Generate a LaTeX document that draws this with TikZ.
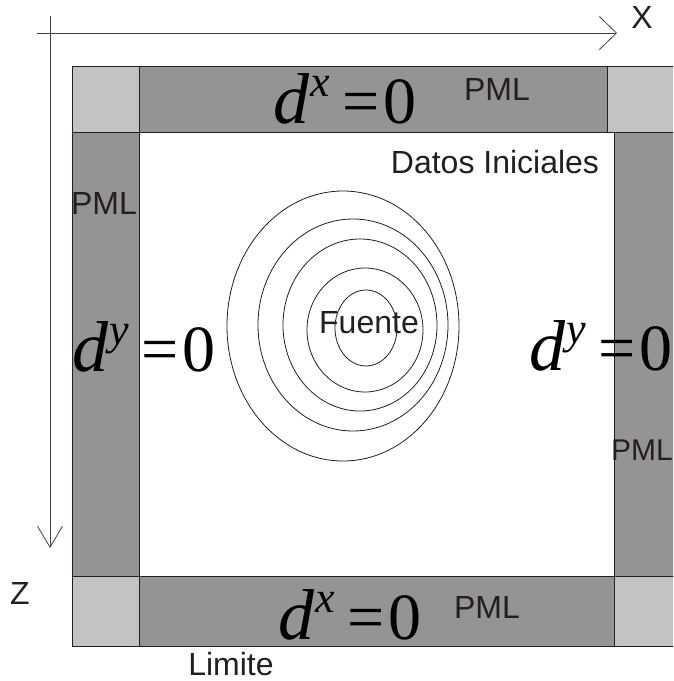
\documentclass[tikz,border=0pt]{standalone}
\usepackage{fontspec}
\setmainfont{Liberation Sans}
\newfontfamily\tnr{Liberation Serif}
\usetikzlibrary{arrows.meta}
\definecolor{pmldark}{HTML}{959394}
\definecolor{pmllight}{HTML}{C3C3C3}
\definecolor{inkk}{HTML}{231F20}
\newcommand{\dform}[1]{{\tnr\fontsize{72}{72}\selectfont\textit{d}\hspace{1pt}\raisebox{27pt}{\fontsize{44}{44}\selectfont\textit{#1}}\hspace{13pt}{\fontsize{66}{66}\selectfont=\hspace{3pt}0}}}
\begin{document}
\begin{tikzpicture}[x=1pt,y=-1pt,
  dark/.style={fill=pmldark,draw=inkk,line width=0.9pt},
  light/.style={fill=pmllight,draw=inkk,line width=0.9pt},
  axisline/.style={draw=inkk!85,line width=0.8pt},
  wave/.style={draw=inkk,line width=0.8pt},
  lbl/.style={inner sep=0pt,text=inkk,font=\fontsize{32}{32}\selectfont},
  frm/.style={inner sep=0pt,anchor=base west,text=black}]
\useasboundingbox (0,0) rectangle (673,681);
\begin{scope}
\clip (0,0) rectangle (673,681);
% PML regions
\path[light] (72,66) rectangle (139,132);
\path[dark] (139,66) rectangle (607,132);
\path[light] (607,66) rectangle (680,132);
\path[dark] (72,132) rectangle (139,576);
\path[dark] (614,132) rectangle (680,576);
\path[light] (72,576) rectangle (139,646);
\path[dark] (139,576) rectangle (614,646);
\path[light] (614,576) rectangle (680,646);
\end{scope}
% axes
\coordinate (xs) at (37,33);
\coordinate (xe) at (617,33);
\coordinate (zs) at (50,16);
\coordinate (ze) at (50,548);
\draw[axisline,-{Straight Barb[length=17pt,width=33pt,line width=0.8pt]}] (xs) -- (xe);
\draw[axisline,-{Straight Barb[length=21pt,width=25pt,line width=0.8pt]}] (zs) -- (ze);
\node[lbl] (xl) at (642,17) {X};
\node[lbl] (zl) at (20,593) {Z};
% waves
\draw[wave] (343,326) ellipse [x radius=116, y radius=135];
\draw[wave] (353,325) ellipse [x radius=95, y radius=106];
\draw[wave] (360,325) ellipse [x radius=77, y radius=86];
\draw[wave] (365,330) ellipse [x radius=58, y radius=62];
\draw[wave] (366,328) ellipse [x radius=31, y radius=38];
% labels
\node[lbl] (src) at (369,323) {Fuente};
\node[lbl] (init) at (495,162) {Datos Iniciales};
\node[lbl] (pmlt) at (497,89) {PML};
\node[lbl] (pmll) at (104,203) {PML};
\node[lbl,anchor=east,font=\fontsize{30}{30}\selectfont] (pmlr) at (673,450) {PML};
\node[lbl] (pmlb) at (487,607) {PML};
\node[lbl] (lim) at (231,664) {Limite};
% formulas
\node[frm] (ft) at (273,123) {\dform{x}};
\node[frm] (fb) at (278,639) {\dform{x}};
\node[frm] (fl) at (72,371) {\dform{y}};
\node[frm] (fr) at (529,370) {\dform{y}};
\end{tikzpicture}
\end{document}
